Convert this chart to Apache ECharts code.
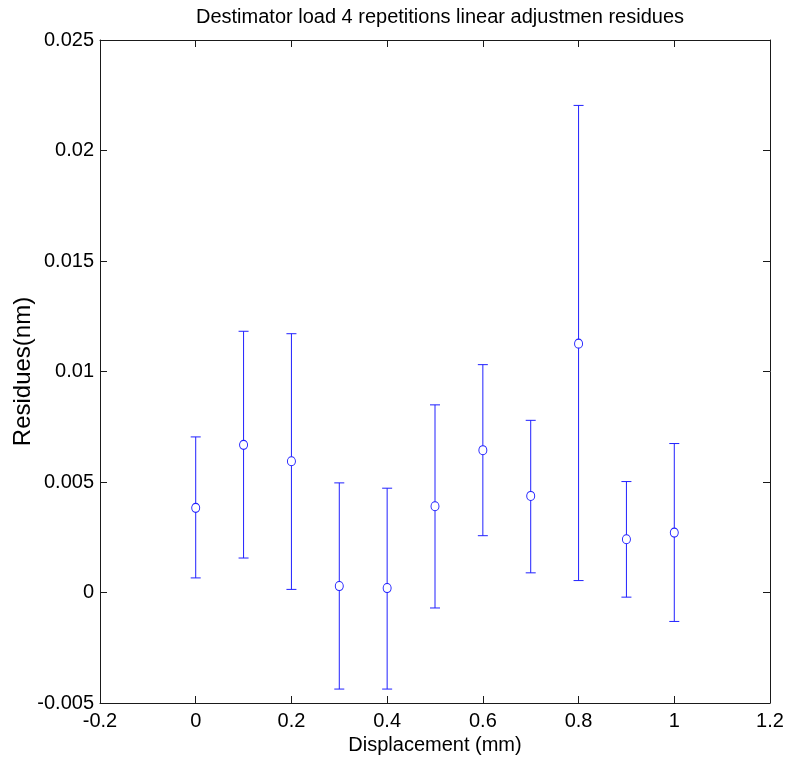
<!DOCTYPE html>
<html>
<head>
<meta charset="utf-8">
<script src="https://cdn.jsdelivr.net/npm/echarts@6/dist/echarts.min.js"></script>
<style>html,body{margin:0;padding:0;background:#fff;}#c{width:798px;height:764px;}</style>
</head>
<body>
<div id="c"></div>
<script>
const titleText = 'Destimator load 4 repetitions linear adjustmen residues';
const xName = 'Displacement (mm)';
const yName = 'Residues(nm)';
const xs    = [0, 0.1, 0.2, 0.3, 0.4, 0.5, 0.6, 0.7, 0.8, 0.9, 1.0];
const means = [0.00383, 0.00668, 0.00594, 0.00029, 0.00020, 0.00390, 0.00644, 0.00437, 0.01126, 0.00241, 0.00271];
const upper = [0.00704, 0.01182, 0.01171, 0.00496, 0.00472, 0.00849, 0.01031, 0.00779, 0.02204, 0.00502, 0.00674];
const lower = [0.00066, 0.00156, 0.00014, -0.00437, -0.00437, -0.00070, 0.00257, 0.00089, 0.00054, -0.00021, -0.00131];

const FONT = 'Liberation Sans';
const axisColor = '#1a1a1a';
const markColor = '#2020ff';

const chart = echarts.init(document.getElementById('c'), null, {renderer: 'canvas'});
const fmt = (d) => (v) => String(parseFloat(Number(v).toFixed(d)));

const errData = xs.map((x, i) => [x, lower[i], upper[i]]);
const ptData = xs.map((x, i) => [x, means[i]]);

const baseAxis = {
  axisLine: {show: true, onZero: false, lineStyle: {color: axisColor, width: 1}},
  axisTick: {show: true, inside: true, length: 7, lineStyle: {color: axisColor}},
  splitLine: {show: false}
};

chart.setOption({
  animation: false,
  backgroundColor: '#fff',
  title: {
    text: titleText, left: 435, top: 2, textAlign: 'center',
    textStyle: {fontFamily: FONT, fontSize: 20, fontWeight: 'normal', color: '#000'}
  },
  grid: {left: 100, right: 28, top: 40, bottom: 61, containLabel: false, outerBoundsMode: 'none'},
  xAxis: [
    Object.assign({}, baseAxis, {
      type: 'value', min: -0.2, max: 1.2, interval: 0.2, position: 'bottom',
      name: xName, nameLocation: 'middle', nameGap: 31,
      nameTextStyle: {fontFamily: FONT, fontSize: 20, color: '#000'},
      axisLabel: {fontFamily: FONT, fontSize: 20, color: '#000', margin: 8, formatter: fmt(3)}
    }),
    Object.assign({}, baseAxis, {
      type: 'value', min: -0.2, max: 1.2, interval: 0.2, position: 'top',
      axisLabel: {show: false}
    })
  ],
  yAxis: [
    Object.assign({}, baseAxis, {
      type: 'value', min: -0.005, max: 0.025, interval: 0.005, position: 'left',
      name: yName, nameLocation: 'middle', nameGap: 65, nameRotate: 90, nameMoveOverlap: false,
      nameTextStyle: {fontFamily: FONT, fontSize: 24, color: '#000'},
      axisLabel: {fontFamily: FONT, fontSize: 20, color: '#000', margin: 6, formatter: fmt(4)}
    }),
    Object.assign({}, baseAxis, {
      type: 'value', min: -0.005, max: 0.025, interval: 0.005, position: 'right',
      axisLabel: {show: false}
    })
  ],
  series: [
    {
      type: 'custom',
      xAxisIndex: 0, yAxisIndex: 0,
      data: errData,
      encode: {x: 0, y: [1, 2]},
      renderItem: function (params, api) {
        const x = api.value(0);
        const lo = api.coord([x, api.value(1)]);
        const hi = api.coord([x, api.value(2)]);
        const hw = 5;
        const style = {stroke: markColor, lineWidth: 1, fill: null};
        return {
          type: 'group',
          children: [
            {type: 'line', shape: {x1: lo[0], y1: lo[1], x2: hi[0], y2: hi[1]}, style: style},
            {type: 'line', shape: {x1: lo[0] - hw, y1: lo[1], x2: lo[0] + hw, y2: lo[1]}, style: style},
            {type: 'line', shape: {x1: hi[0] - hw, y1: hi[1], x2: hi[0] + hw, y2: hi[1]}, style: style}
          ]
        };
      },
      z: 2
    },
    {
      type: 'scatter',
      xAxisIndex: 0, yAxisIndex: 0,
      data: ptData,
      symbol: 'circle',
      symbolSize: [8, 9],
      itemStyle: {color: '#fff', borderColor: markColor, borderWidth: 1, opacity: 1},
      z: 3
    }
  ]
});
</script>
</body>
</html>
